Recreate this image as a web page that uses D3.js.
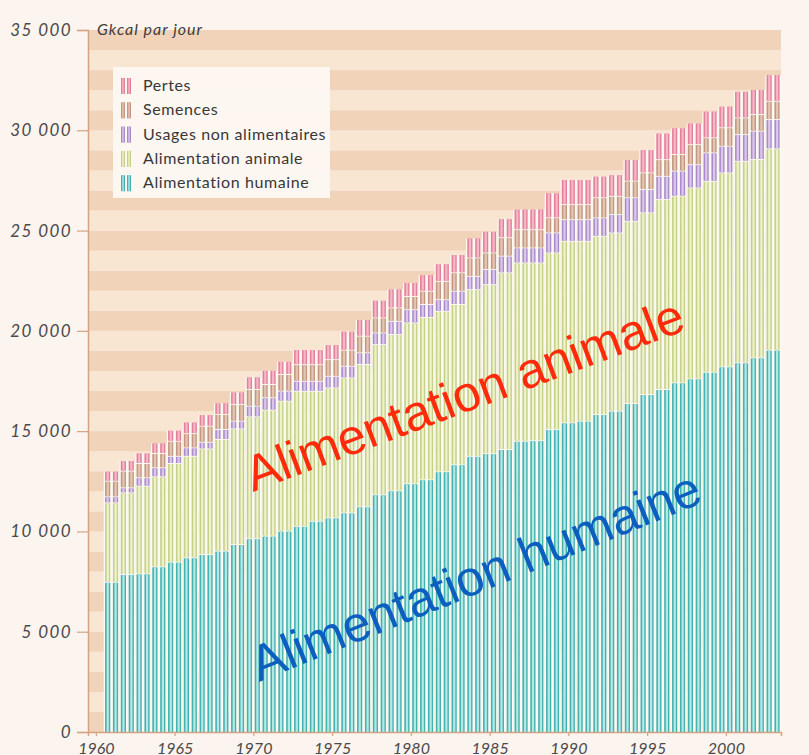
<!DOCTYPE html>
<html>
<head>
<meta charset="utf-8">
<script src="https://cdn.jsdelivr.net/npm/d3@7"></script>
<style>
  html, body { margin: 0; padding: 0; background: #fcf4ef; }
  svg { display: block; }
</style>
</head>
<body>
<svg id="chart" width="809" height="755"></svg>
<script>
// ---- DATA (Gkcal par jour) ----
const years = [1961,1962,1963,1964,1965,1966,1967,1968,1969,1970,1971,1972,1973,1974,1975,1976,1977,1978,1979,1980,1981,1982,1983,1984,1985,1986,1987,1988,1989,1990,1991,1992,1993,1994,1995,1996,1997,1998,1999,2000,2001,2002,2003];
const alimentationHumaine = [7440,7830,7860,8210,8440,8660,8820,8990,9320,9610,9740,9990,10230,10480,10650,10900,11200,11800,12000,12350,12550,12950,13300,13720,13850,14060,14470,14500,15050,15390,15470,15800,15970,16350,16800,17050,17380,17580,17910,18180,18380,18630,19010];
const alimentationAnimale = [3960,4070,4370,4490,4920,5060,5270,5570,5770,6080,6280,6480,6730,6480,6480,6730,7100,7490,7790,8020,8090,8000,7990,8310,8430,8810,8890,8860,8810,9050,8970,8890,8890,9090,9060,9470,9310,9520,9520,9670,10050,9890,10040];
const usagesNonAlimentaires = [300,250,420,450,360,420,330,500,380,530,620,500,500,500,580,580,580,580,660,660,650,580,660,660,750,830,750,750,1000,1080,1080,920,910,1170,1160,1160,1250,1160,1420,1330,1330,1410,1460];
const semences = [780,830,710,710,750,710,800,750,830,830,660,830,830,830,830,800,830,750,670,660,660,910,920,920,830,920,910,910,750,750,750,1000,910,830,830,830,830,1000,750,920,830,830,910];
const pertes = [500,530,530,530,550,580,580,580,630,630,710,660,750,750,750,950,830,880,950,700,830,880,910,1000,1080,950,1030,1030,1250,1250,1250,1080,1080,1080,1160,1330,1330,1080,1330,1080,1330,1250,1330];

const seriesKeys = ["humaine","animale","usages","semences","pertes"];
const seriesLabels = {
  pertes: "Pertes",
  semences: "Semences",
  usages: "Usages non alimentaires",
  animale: "Alimentation animale",
  humaine: "Alimentation humaine"
};
const legendOrder = ["pertes","semences","usages","animale","humaine"];
const yTicks = [0,5000,10000,15000,20000,25000,30000,35000];
const xTicks = [1960,1965,1970,1975,1980,1985,1990,1995,2000];

(function () {
// ---- styles ----
const colDark = { humaine:"#46b2b0", animale:"#c5d08a", usages:"#a98bcb", semences:"#c39882", pertes:"#e47f9a" };
const colLight = { humaine:"#b3e9e7", animale:"#eff3c9", usages:"#ddc8ec", semences:"#e6c6b3", pertes:"#f6b7c7" };

const svg = d3.select("#chart");
const pLeft = 88, pRight = 781, pTop = 30, pBottom = 732;

const x = d3.scaleLinear().domain([1959.5, 2003.5]).range([pLeft, pRight]);
const y = d3.scaleLinear().domain([0, 35000]).range([pBottom, pTop]);
const yearW = x(1) - x(0);

// background bands (every 1000)
const bands = d3.range(0, 35000, 1000);
svg.append("g").selectAll("rect").data(bands).join("rect")
  .attr("x", pLeft).attr("width", pRight - pLeft)
  .attr("y", d => y(d + 1000)).attr("height", d => y(d) - y(d + 1000))
  .attr("fill", d => (d / 1000) % 2 === 0 ? "#f1d3ba" : "#f8e5d2");

// data table
const table = years.map((yr, i) => ({
  year: yr,
  humaine: alimentationHumaine[i],
  animale: alimentationAnimale[i],
  usages: usagesNonAlimentaires[i],
  semences: semences[i],
  pertes: pertes[i]
}));
const stacked = d3.stack().keys(seriesKeys)(table);
const totals = table.map(d => seriesKeys.reduce((s, k) => s + d[k], 0));

// white base behind each year column
svg.append("g").selectAll("rect").data(table).join("rect")
  .attr("x", d => x(d.year - 0.5))
  .attr("width", yearW)
  .attr("y", (d, i) => y(totals[i]))
  .attr("height", (d, i) => y(0) - y(totals[i]))
  .attr("fill", "#fbf9f1");

// stacked sub-bars: two per year
const subOffsets = [1.3, 1.3 + yearW / 2];
const subW = 5.2;
const gBars = svg.append("g");
stacked.forEach(layer => {
  const key = layer.key;
  const g = gBars.append("g");
  layer.forEach(seg => {
    const yr = seg.data.year;
    const y0 = y(seg[0]), y1 = y(seg[1]);
    const h = Math.max(0, y0 - y1 - (key === "humaine" ? 0 : 1));
    subOffsets.forEach(off => {
      const bx = x(yr - 0.5) + off;
      g.append("rect").attr("x", bx).attr("y", y1).attr("width", subW).attr("height", h)
        .attr("fill", colDark[key]);
      g.append("rect").attr("x", bx + 1.6).attr("y", y1).attr("width", subW - 3.0).attr("height", h)
        .attr("fill", colLight[key]);
    });
  });
});

// axes
const axisCol = "#d4a382";
const fontAxis = "Lato, 'Open Sans', sans-serif";
const fmt = d => d === 0 ? "0" : d3.format(",")(d).replace(/,/g, " ");

const yAxis = svg.append("g").attr("transform", `translate(${pLeft},0)`)
  .call(d3.axisLeft(y).tickValues(yTicks).tickSize(11).tickPadding(5).tickFormat(fmt));
yAxis.select(".domain").attr("stroke", axisCol).attr("stroke-width", 1.5);
yAxis.selectAll(".tick line").attr("stroke", axisCol).attr("stroke-width", 1.2);
yAxis.selectAll(".tick text").attr("fill", "#4a4a4a").style("font-family", fontAxis)
  .style("font-style", "italic").style("font-size", "17px").style("letter-spacing", "1.4px");

const xAxis = svg.append("g").attr("transform", `translate(0,${pBottom})`)
  .call(d3.axisBottom(x).tickValues(xTicks).tickSize(4).tickPadding(3).tickFormat(d3.format("d")));
xAxis.select(".domain").attr("stroke", axisCol).attr("stroke-width", 1.5);
xAxis.selectAll(".tick line").attr("stroke", axisCol).attr("stroke-width", 1.2);
xAxis.selectAll(".tick text").attr("fill", "#4a4a4a").style("font-family", fontAxis)
  .style("font-style", "italic").style("font-size", "16px")
  .attr("y", 21.5).attr("dy", 0);

// unit label
svg.append("text").attr("x", 97).attr("y", 35).text("Gkcal par jour")
  .attr("fill", "#3e3e3e").style("font-family", fontAxis).style("font-style", "italic")
  .style("font-size", "16px").style("letter-spacing", "1px");

// legend
const lg = svg.append("g");
lg.append("rect").attr("x", 113).attr("y", 67).attr("width", 217).attr("height", 131)
  .attr("fill", "#fdf8f3").attr("opacity", 0.95);
legendOrder.forEach((k, i) => {
  const cy = 86 + i * 24.3;
  [121, 127].forEach(sx => {
    lg.append("rect").attr("x", sx).attr("y", cy - 8).attr("width", 4).attr("height", 16).attr("fill", colDark[k]);
    lg.append("rect").attr("x", sx + 1.3).attr("y", cy - 8).attr("width", 1.4).attr("height", 16).attr("fill", colLight[k]);
  });
  lg.append("text").attr("x", 143).attr("y", cy + 5).text(seriesLabels[k])
    .attr("fill", "#383838").style("font-family", fontAxis).style("font-size", "16px")
    .style("letter-spacing", "0.6px");
});

// annotations
svg.append("text").attr("transform", "translate(253,492) rotate(-20.5)")
  .text("Alimentation animale").attr("fill", "#ff2a0c")
  .style("font-family", "'Liberation Sans', Arial, sans-serif").style("font-size", "50px");
svg.append("text").attr("transform", "translate(259,682) rotate(-22)")
  .text("Alimentation humaine").attr("fill", "#0c5fbf")
  .style("font-family", "'Liberation Sans', Arial, sans-serif").style("font-size", "50px");
})();
</script>
</body>
</html>
